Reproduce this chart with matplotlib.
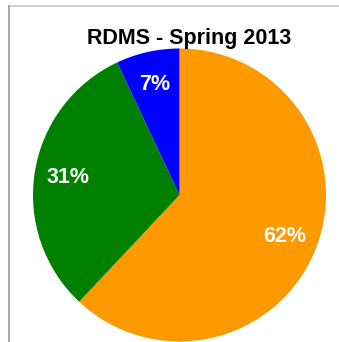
import matplotlib
matplotlib.use("Agg")
import matplotlib.pyplot as plt
from matplotlib.lines import Line2D

# data
labels = ["Orange", "Green", "Blue"]
shares = [62, 31, 7]
colors = ["#FF9900", "#008000", "#0000FF"]
title = "RDMS - Spring 2013"

W, H = 339, 342
fig = plt.figure(figsize=(W / 100, H / 100), dpi=100)

# frame lines (top and left)
fig.add_artist(Line2D([9 / W, 1], [1 - 6 / H, 1 - 6 / H], color="#c8c8c8", lw=1.2))
fig.add_artist(Line2D([9 / W, 9 / W], [0, 1 - 6 / H], color="#999999", lw=1.2))

# pie area: center (179.5, 195) px, radius 146.5 px
cx, cy, r = 179.5, 195, 146.5
ax = fig.add_axes([(cx - r) / W, (H - cy - r) / H, 2 * r / W, 2 * r / H])
wedges, texts, autotexts = ax.pie(
    shares, colors=colors, startangle=90, counterclock=False,
    autopct="%d%%", pctdistance=0.77,
    wedgeprops=dict(linewidth=0),
    textprops=dict(color="white", fontweight="bold", fontsize=15.5,
                   family=["Liberation Sans", "DejaVu Sans"]),
)
ax.set_xlim(-1, 1)
ax.set_ylim(-1, 1)
ax.set_aspect("equal")
ax.axis("off")

fig.text(189.5 / W, 1 - 44 / H, title, ha="center", va="baseline",
         fontsize=15.5, fontweight="bold", family=["Liberation Sans", "DejaVu Sans"])

fig.savefig("out.png", dpi=100)
